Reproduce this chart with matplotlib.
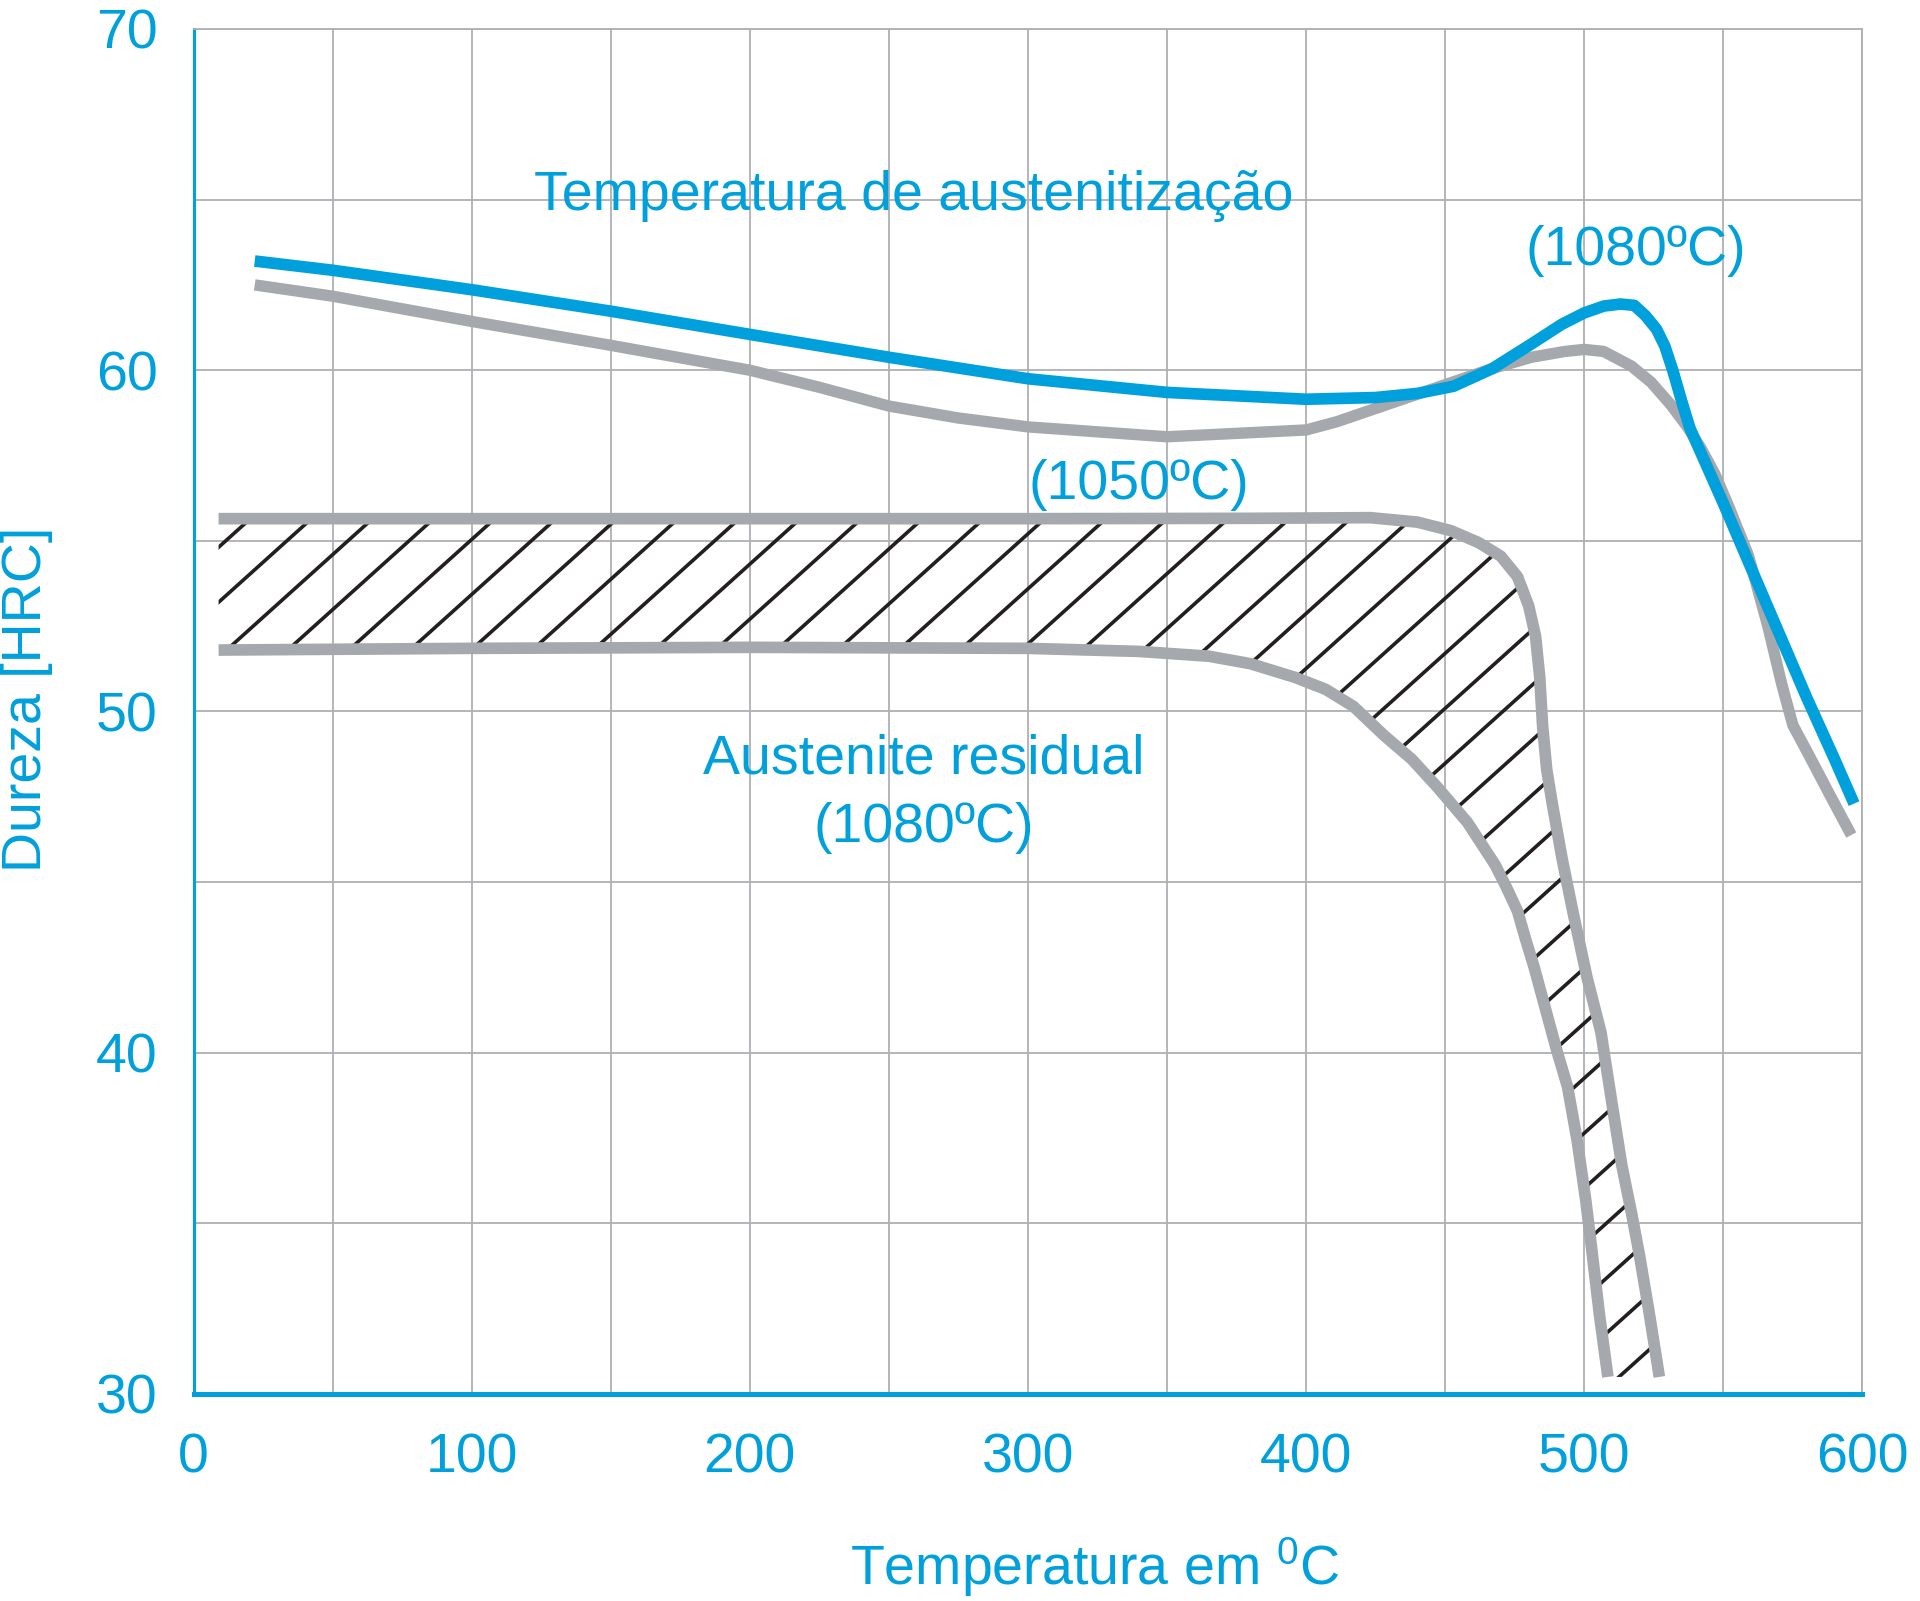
import matplotlib
matplotlib.use("Agg")
import matplotlib.pyplot as plt
import numpy as np
from matplotlib.patches import Polygon
from matplotlib.collections import LineCollection

plt.rcParams['font.family'] = ['Liberation Sans', 'DejaVu Sans']
plt.rcParams['mathtext.fontset'] = 'custom'
plt.rcParams['mathtext.rm'] = 'Liberation Sans'

BLUE = '#00A0DC'
GRAY = '#A5A9AD'
GRID = '#AEB0B3'
HATCH = '#231F20'

# axes ticks
x_ticks = [0, 100, 200, 300, 400, 500, 600]
x_minor = [50, 150, 250, 350, 450, 550]
y_ticks = [30, 40, 50, 60, 70]
y_minor = [35, 45, 55, 65]

# austenitizing temperature 1080 C (blue)
blue_x = [22, 50, 100, 150, 200, 250, 300, 350, 400, 425, 440, 453, 467, 481,
          492, 500, 507, 513, 518, 522, 526, 529, 532, 535, 538, 544, 550, 560,
          570, 580, 590, 597]
blue_y = [63.2, 62.93, 62.36, 61.73, 61.05, 60.38, 59.75, 59.35, 59.15, 59.2,
          59.32, 59.53, 60.05, 60.77, 61.35, 61.68, 61.88, 61.94, 61.9, 61.6,
          61.2, 60.7, 59.95, 59.1, 58.3, 57.2, 56.1, 54.2, 52.3, 50.4, 48.6, 47.3]

# gray upper curve
gray_x = [22, 50, 100, 150, 200, 225, 250, 275, 300, 350, 400, 411, 425, 439,
          453, 467, 481, 493, 500, 507, 517, 524, 531, 537, 542, 547, 552, 559,
          566, 571, 575, 580, 588, 596]
gray_y = [62.5, 62.17, 61.43, 60.73, 60.0, 59.5, 58.95, 58.6, 58.34, 58.05,
          58.25, 58.49, 58.88, 59.27, 59.66, 60.05, 60.38, 60.55, 60.61, 60.55,
          60.12, 59.65, 59.0, 58.35, 57.71, 56.95, 56.0, 54.58, 52.5, 50.8,
          49.6, 48.84, 47.6, 46.38]

# residual austenite band: upper limit (1050 C)
top_x = [9, 100, 200, 300, 380, 423, 440, 452, 462, 470, 476, 480, 482.5, 484,
         485, 486.5, 488.5, 492, 496, 501, 506, 510, 513.5, 517, 520, 523.5, 527]
top_y = [55.65, 55.65, 55.65, 55.65, 55.66, 55.68, 55.55, 55.3, 54.95, 54.55,
         53.95, 53.1, 52.2, 51.0, 49.6, 48.3, 47.3, 45.7, 44.1, 42.2, 40.6,
         38.5, 36.7, 35.3, 34.0, 32.3, 30.5]

# residual austenite band: lower limit (1080 C)
bot_x = [9, 100, 200, 300, 340, 365, 380, 396, 407, 417, 428, 438, 447, 458,
         468, 472, 476, 479, 482, 486, 490, 494, 497.5, 500.5, 502.6, 505.5, 508.5]
bot_y = [51.8, 51.85, 51.88, 51.85, 51.76, 51.62, 51.4, 51.0, 50.65, 50.15,
         49.3, 48.6, 47.8, 46.75, 45.5, 44.85, 44.15, 43.3, 42.5, 41.3, 40.1,
         39.0, 37.4, 35.7, 34.3, 32.3, 30.5]

fig = plt.figure(figsize=(19.2, 16.01), dpi=100)
ax = fig.add_axes([0.1008, 0.1293, 0.8692, 0.8526])
ax.set_xlim(0, 600)
ax.set_ylim(30, 70)

ax.set_xticks(x_ticks)
ax.set_xticks(x_minor, minor=True)
ax.set_yticks(y_ticks)
ax.set_yticks(y_minor, minor=True)
ax.grid(which='both', color=GRID, lw=1.3)
ax.set_axisbelow(True)
ax.tick_params(which='both', length=0)
ax.tick_params(axis='x', labelsize=40, labelcolor=BLUE, pad=28)
ax.tick_params(axis='y', labelsize=40, labelcolor=BLUE, pad=26)

ax.spines['left'].set_color(BLUE)
ax.spines['left'].set_linewidth(2.2)
ax.spines['bottom'].set_color(BLUE)
ax.spines['bottom'].set_linewidth(3.6)
for s in ['top', 'right']:
    ax.spines[s].set_color(GRID)
    ax.spines[s].set_linewidth(1.3)

# hatched band
poly = np.column_stack([top_x + bot_x[::-1], top_y + bot_y[::-1]])
band = Polygon(poly, closed=True, facecolor='none', edgecolor='none')
ax.add_patch(band)

pts = ax.transData.transform(poly)
slope = 0.9
step = 55.0
cs = pts[:, 1] - slope * pts[:, 0]
c0 = 637.0
k0 = int(np.floor((cs.min() - c0) / step)) - 1
k1 = int(np.ceil((cs.max() - c0) / step)) + 1
xa, xb = pts[:, 0].min() - 100, pts[:, 0].max() + 100
inv = ax.transData.inverted()
segs = []
for k in range(k0, k1 + 1):
    c = c0 + k * step
    seg = np.array([[xa, slope * xa + c], [xb, slope * xb + c]])
    segs.append(inv.transform(seg))
lc = LineCollection(segs, colors=HATCH, linewidths=2.6, zorder=3)
ax.add_collection(lc)
lc.set_clip_path(band)

line_kw = dict(solid_capstyle='butt', solid_joinstyle='round')
ax.plot(top_x, top_y, color=GRAY, lw=8.4, zorder=4, **line_kw)
ax.plot(bot_x, bot_y, color=GRAY, lw=8.4, zorder=4, **line_kw)
ax.plot(gray_x, gray_y, color=GRAY, lw=8.2, zorder=4, **line_kw)
ax.plot(blue_x, blue_y, color=BLUE, lw=8.4, zorder=5, **line_kw)

txt = dict(color=BLUE, fontsize=40, ha='center', va='center')
ax.text(259, 65.1, 'Temperatura de austenitização', **txt)
ax.text(518.6, 63.5, '(1080ºC)', **txt)
ax.text(339.8, 56.65, '(1050ºC)', **txt)
ax.text(262.4, 48.6, 'Austenite residual', **txt)
ax.text(262.4, 46.6, '(1080ºC)', **txt)

fig.text(0.570, 0.0212, r'Temperatura em $\mathregular{^0}$C', **txt)
fig.text(0.014, 0.563, 'Dureza [HRC]', rotation=90, **txt)

fig.savefig('out.png', dpi=100)
